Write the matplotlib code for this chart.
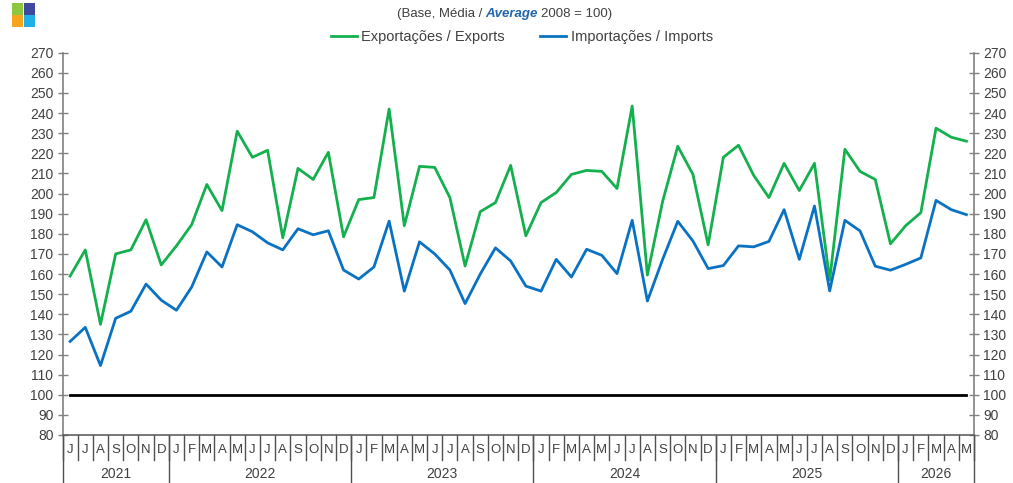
import matplotlib
matplotlib.use("Agg")
import matplotlib.pyplot as plt
import matplotlib.transforms as mtransforms
from matplotlib.patches import Rectangle
from matplotlib.offsetbox import TextArea, HPacker, AnchoredOffsetbox

plt.rcParams['font.family'] = ['Liberation Sans', 'DejaVu Sans']

# ---------------- data ----------------
months = (['J', 'J', 'A', 'S', 'O', 'N', 'D']
          + ['J', 'F', 'M', 'A', 'M', 'J', 'J', 'A', 'S', 'O', 'N', 'D'] * 4
          + ['J', 'F', 'M', 'A', 'M'])
years = ['2021', '2022', '2023', '2024', '2025', '2026']
months_per_year = [7, 12, 12, 12, 12, 5]

exports = [159, 172, 135, 170, 172, 187, 164.5,
           174, 184.5, 204.5, 191.5, 231, 218, 221.5, 178, 212.5, 207, 220.5, 178.5,
           197, 198, 242, 184, 213.5, 213, 198, 164, 191, 195.5, 214, 179,
           195.5, 200.5, 209.5, 211.5, 211, 202.5, 243.5, 159.5, 196, 223.5, 209.5, 174.5,
           218, 224, 209, 198, 215, 201.5, 215, 157, 222, 211, 207, 175,
           184, 190.5, 232.5, 228, 226]
imports = [126.5, 133.5, 114.5, 138, 141.5, 155, 147,
           142, 153.5, 171, 163.5, 184.5, 181, 175.5, 172, 182.5, 179.5, 181.5, 162,
           157.5, 163.5, 186.3, 151.5, 176, 170, 162, 145.3, 160, 173, 166.5, 154,
           151.5, 167.3, 158.5, 172.3, 169.3, 160.2, 186.7, 146.6, 167.2, 186.2, 176.4, 162.7,
           164.2, 174, 173.5, 176.2, 192, 167.3, 193.8, 151.6, 186.7, 181.4, 163.9, 161.9,
           164.8, 168, 196.6, 192, 189.5]
base_value = 100
y_ticks = list(range(80, 271, 10))

label_exp = 'Exportações / Exports'
label_imp = 'Importações / Imports'

GREEN = '#14b04e'
BLUE = '#0a72c2'
TXT = '#404040'
AX = '#808080'

# ---------------- figure ----------------
fig = plt.figure(figsize=(10.13, 4.83), dpi=100)
ax = fig.add_axes([0.0617, 0.0994, 0.8998, 0.7915])

x = list(range(len(months)))
ax.plot(x, [base_value] * len(x), color='black', lw=2.0, zorder=2)
ax.plot(x, exports, color=GREEN, lw=2.0, label=label_exp, zorder=3)
ax.plot(x, imports, color=BLUE, lw=2.0, label=label_imp, zorder=3)

ax.set_xlim(-0.5, len(months) - 0.5)
ax.set_ylim(80, 270)
ax.set_yticks(y_ticks)
ax.tick_params(axis='y', which='both', direction='inout', length=7, width=1,
               color=AX, labelcolor=TXT, labelsize=10, left=True, right=True,
               labelleft=True, labelright=True, pad=3)
ax.set_xticks([])
ax.spines['top'].set_visible(False)
for s in ['left', 'right', 'bottom']:
    ax.spines[s].set_color(AX)
    ax.spines[s].set_linewidth(1.2)
ax.spines['bottom'].set_color('#606060')

# ---------------- category axis (months / years) ----------------
trans = mtransforms.blended_transform_factory(ax.transData, ax.transAxes)
ax_h_px = 0.7915 * 483
month_sep = 25 / ax_h_px
year_sep = 47 / ax_h_px
for k in range(len(months) + 1):
    ax.plot([k - 0.5, k - 0.5], [0, -month_sep], transform=trans, color='#505050',
            lw=1.0, clip_on=False)
for i, m in enumerate(months):
    ax.text(i, -15 / ax_h_px, m, transform=trans, ha='center', va='center',
            fontsize=9.5, color=TXT)
start = 0
bounds = [0]
for y, n in zip(years, months_per_year):
    ax.text(start + (n - 1) / 2, -39 / ax_h_px, y, transform=trans, ha='center',
            va='center', fontsize=10, color=TXT)
    start += n
    bounds.append(start)
for b in bounds:
    ax.plot([b - 0.5, b - 0.5], [0, -year_sep], transform=trans, color='#505050',
            lw=1.0, clip_on=False)

# ---------------- legend ----------------
fig.legend(loc='center', bbox_to_anchor=(0.515, 0.923), ncol=2, frameon=False,
           fontsize=10.5, handlelength=1.8, handletextpad=0.3, columnspacing=2.4,
           labelcolor=TXT)

# ---------------- subtitle with mixed styles ----------------
parts = [TextArea('(Base, Média /', textprops=dict(fontsize=9.5, color=TXT)),
         TextArea('Average', textprops=dict(fontsize=9.5, color='#1f66ad',
                                            style='italic', weight='bold')),
         TextArea('2008 = 100)', textprops=dict(fontsize=9.5, color=TXT))]
box = HPacker(children=parts, align='baseline', pad=0, sep=2.5)
anch = AnchoredOffsetbox(loc='center', child=box, pad=0, borderpad=0, frameon=False,
                         bbox_to_anchor=(0.498, 0.972), bbox_transform=fig.transFigure)
ax.add_artist(anch)

# ---------------- logo ----------------
logo_cols = [['#8dc63f', '#3f4a9c'], ['#f7a51c', '#22aee6']]
sq = 11.5
for r in range(2):
    for c in range(2):
        x0 = 11.5 + c * (sq + 0.5)
        y0 = 483 - (3 + (r + 1) * sq + r * 0.5)
        fig.patches.append(Rectangle((x0 / 1013, y0 / 483), sq / 1013, sq / 483,
                                     transform=fig.transFigure, color=logo_cols[r][c],
                                     lw=0))

fig.savefig('out.png', dpi=100)
